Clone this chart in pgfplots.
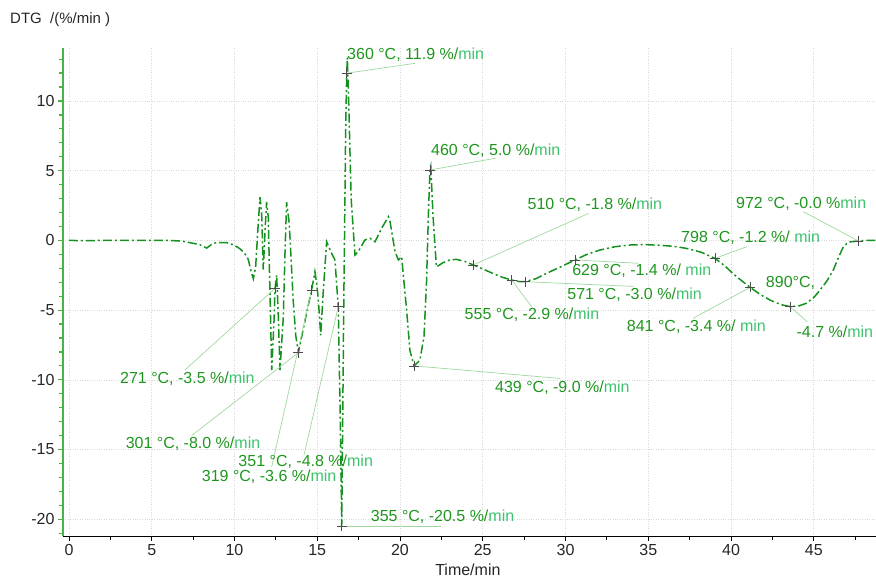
\documentclass[border=0pt]{standalone}
\usepackage{pgfplots}
\pgfplotsset{compat=1.18}
\usepackage{fontspec}
\setmainfont{Liberation Sans}
\definecolor{curvegreen}{RGB}{20,145,30}
\definecolor{txtgreen}{RGB}{30,150,30}
\definecolor{mingreen}{RGB}{60,195,110}
\definecolor{leadgreen}{RGB}{160,215,160}
\definecolor{yaxgreen}{RGB}{70,180,70}
\newcommand{\lab}[2]{{\color{txtgreen}#1}{\color{mingreen}#2}}
\begin{document}
\begin{tikzpicture}
\useasboundingbox (-63pt,-42pt) rectangle (813pt,536pt);
\begin{axis}[
  at={(0pt,0pt)}, anchor=south west,
  scale only axis, width=813pt, height=488pt,
  xmin=-0.36, xmax=48.76, ymin=-21.2, ymax=13.8,
  axis x line*=bottom, axis y line*=left,
  x axis line style={-, black, line width=0.9pt},
  y axis line style={-, yaxgreen, line width=1.8pt},
  xtick={0,5,...,45}, ytick={-20,-15,...,10},
  minor xtick={2.5,7.5,...,47.5},
  minor ytick={-21,-19,-18,-17,-16,-14,-13,-12,-11,-9,-8,-7,-6,-4,-3,-2,-1,1,2,3,4,6,7,8,9,11,12,13},
  tick align=outside,
  major tick length=5pt, minor tick length=4pt,
  x tick style={black, line width=0.8pt},
  y tick style={yaxgreen, line width=1.2pt},
  grid=major,
  grid style={dotted, gray!30, line width=0.6pt},
  /pgf/number format/assume math mode=true,
  ticklabel style={font=\fontsize{16}{19}\selectfont, text=black!85},
  clip=false,
]
\addplot[curvegreen, line width=1.5pt, dash pattern=on 9pt off 3pt on 2pt off 3pt] coordinates {
(0,0) (1,-0.02) (2,0) (3,0) (4,0.0) (5,0) (6,0) (6.8,-0.05) (7.3,-0.16) (7.9,-0.3)
(8.32,-0.55) (8.6,-0.3) (8.9,-0.15) (9.5,-0.15) (10.0,-0.35) (10.33,-0.6) (10.6,-0.9)
(10.83,-1.35) (11.0,-2.2) (11.14,-2.75) (11.28,-1.9) (11.4,0.5) (11.54,3.1) (11.64,2.0)
(11.74,-2.1) (11.84,0.5) (11.94,2.75) (12.04,1.7) (12.15,-4) (12.25,-9.3) (12.4,-5.5)
(12.45,-3.44) (12.55,-2.5) (12.65,-5.5) (12.75,-9.3) (12.95,-5.5) (13.05,-1) (13.15,2.75)
(13.31,1.2) (13.45,-2) (13.55,-4.3) (13.7,-6.8) (13.86,-8.05) (14.06,-6.9) (14.36,-5.2)
(14.66,-3.56) (14.86,-2.25) (14.98,-3.2) (15.07,-4.3) (15.21,-6.8) (15.37,-3.56)
(15.57,-0.1) (15.87,-0.93) (16.07,-1.4) (16.27,-4.76) (16.38,-12) (16.48,-20.5)
(16.6,-5) (16.72,8) (16.78,11.9) (16.82,13.1) (16.9,10) (17.05,3) (17.28,-1.05)
(17.48,-0.8) (17.88,0.03) (18.19,0.15) (18.49,-0.1) (18.89,0.87) (19.3,1.7) (19.4,1.34)
(19.7,-0.8) (19.9,-1.4) (20.1,-1.17) (20.4,-5.0) (20.6,-7.9) (20.85,-9.0) (21.2,-8.6)
(21.45,-6.9) (21.6,-3.1) (21.72,2) (21.81,5.05) (21.86,5.3) (22.0,1.7) (22.2,-1.9)
(22.6,-1.6) (23.0,-1.4) (23.4,-1.36) (23.9,-1.5) (24.43,-1.76) (25.0,-2.05) (25.6,-2.36)
(26.2,-2.65) (26.75,-2.84) (27.2,-2.95) (27.55,-2.96) (28.2,-2.75) (28.86,-2.36)
(29.7,-1.9) (30.57,-1.4) (31.3,-1.0) (32.08,-0.69) (33.0,-0.45) (33.9,-0.33) (34.8,-0.3)
(35.7,-0.35) (36.5,-0.42) (37.3,-0.57) (38.2,-0.85) (39.03,-1.29) (39.6,-1.8) (40.1,-2.36)
(40.6,-2.85) (41.15,-3.37) (41.8,-3.9) (42.36,-4.28) (43.0,-4.6) (43.57,-4.75) (44.1,-4.7)
(44.57,-4.5) (45.0,-4.1) (45.38,-3.56) (45.8,-2.9) (46.18,-2.12) (46.5,-1.2) (46.79,-0.45)
(47.1,-0.12) (47.69,-0.04) (48.2,0) (48.76,0)
};
% leader lines
\begin{scope}[leadgreen, line width=0.7pt]
\draw (axis cs:16.78,11.99) -- (axis cs:20.9,12.7);
\draw (axis cs:21.81,5.05) -- (axis cs:25.8,5.9);
\draw (axis cs:24.43,-1.76) -- (axis cs:31.4,1.94);
\draw (axis cs:26.75,-2.84) -- (axis cs:27.96,-4.76);
\draw (axis cs:27.55,-2.96) -- (axis cs:34.1,-3.3);
\draw (axis cs:30.57,-1.4) -- (axis cs:34.4,-1.64);
\draw (axis cs:39.03,-1.29) -- (axis cs:40.95,-0.45);
\draw (axis cs:47.69,-0.04) -- (axis cs:44.37,2.06);
\draw (axis cs:43.57,-4.75) -- (axis cs:44.6,-5.83);
\draw (axis cs:41.15,-3.37) -- (axis cs:37.7,-5.59);
\draw (axis cs:20.85,-9.0) -- (axis cs:29.67,-9.9);
\draw (axis cs:12.45,-3.44) -- (axis cs:7.0,-9.3);
\draw (axis cs:13.86,-8.05) -- (axis cs:7.41,-14.0);
\draw (axis cs:16.27,-4.76) -- (axis cs:14.2,-15.4);
\draw (axis cs:14.66,-3.56) -- (axis cs:12.25,-16.23);
\draw (axis cs:16.48,-20.5) -- (axis cs:22.5,-20.5);
\end{scope}
\addplot[only marks, mark=+, mark size=5pt, black!70, mark options={line width=0.7pt}] coordinates {
(12.45,-3.44) (13.86,-8.05) (14.66,-3.56) (16.27,-4.76) (16.48,-20.5) (16.78,11.99)
(20.85,-9.0) (21.81,5.05) (24.43,-1.76) (26.75,-2.84) (27.55,-2.96) (30.57,-1.4)
(39.03,-1.29) (41.15,-3.37) (43.57,-4.75) (47.69,-0.04)
};
\begin{scope}[every node/.style={anchor=west, inner sep=0pt, font=\fontsize{16}{19}\selectfont}]
\node at (axis cs:16.8,13.3) {\lab{360 °C, 11.9 \%/}{min}};
\node at (axis cs:21.87,6.4) {\lab{460 °C, 5.0 \%/}{min}};
\node at (axis cs:27.7,2.54) {\lab{510 °C, -1.8 \%/}{min}};
\node at (axis cs:23.9,-5.35) {\lab{555 °C, -2.9 \%/}{min}};
\node at (axis cs:30.1,-3.9) {\lab{571 °C, -3.0 \%/}{min}};
\node at (axis cs:30.4,-2.2) {\lab{629 °C, -1.4 \%/ }{min}};
\node at (axis cs:36.98,0.17) {\lab{798 °C, -1.2 \%/ }{min}};
\node at (axis cs:40.3,2.66) {\lab{972 °C, -0.0 \%}{min}};
\node at (axis cs:42.1,-3.08) {\lab{890°C,}{}};
\node at (axis cs:43.95,-6.55) {\lab{-4.7 \%/}{min}};
\node at (axis cs:33.7,-6.19) {\lab{841 °C, -3.4 \%/ }{min}};
\node at (axis cs:25.74,-10.54) {\lab{439 °C, -9.0 \%/}{min}};
\node at (axis cs:3.08,-9.9) {\lab{271 °C, -3.5 \%/}{min}};
\node at (axis cs:3.42,-14.56) {\lab{301 °C, -8.0 \%/}{min}};
\node at (axis cs:10.23,-15.87) {\lab{351 °C, -4.8 \%/}{min}};
\node at (axis cs:8.02,-16.95) {\lab{319 °C, -3.6 \%/}{min}};
\node at (axis cs:18.23,-19.82) {\lab{355 °C, -20.5 \%/}{min}};
\end{scope}
\node[anchor=west, inner sep=0pt, font=\fontsize{15}{18}\selectfont, text=black!85] at (rel axis cs:0,1) [xshift=-53pt, yshift=28pt] {DTG\ \ /(\%/min )};
\node[anchor=center, inner sep=0pt, font=\fontsize{16}{19}\selectfont, text=black!85] at (rel axis cs:0.498,0) [yshift=-34pt] {Time/min};
\end{axis}
\end{tikzpicture}
\end{document}
